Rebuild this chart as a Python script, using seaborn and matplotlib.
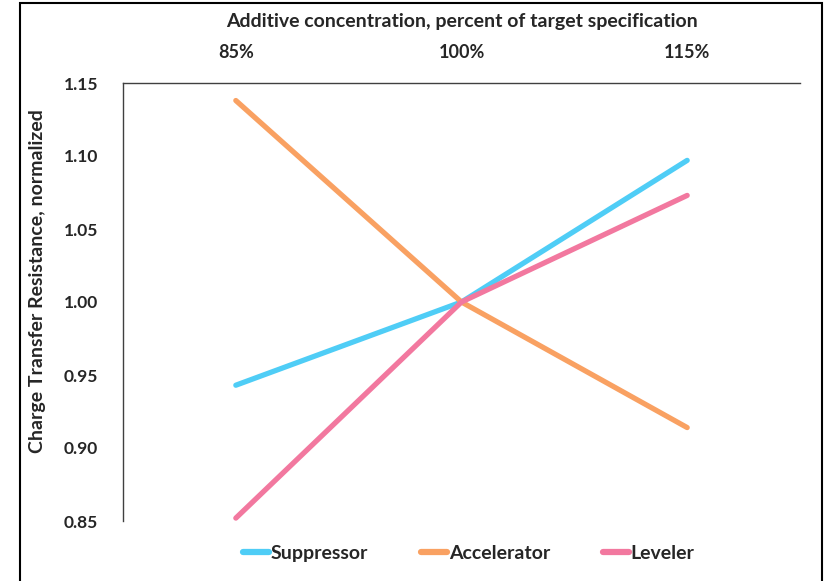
import matplotlib
matplotlib.use("Agg")
import matplotlib.pyplot as plt
from matplotlib.patches import Rectangle
import seaborn as sns
import pandas as pd

concentrations = ["85%", "100%", "115%"]
suppressor = [0.943, 1.000, 1.097]
accelerator = [1.138, 1.000, 0.914]
leveler = [0.852, 1.000, 1.073]
series_names = ["Suppressor", "Accelerator", "Leveler"]
y_ticks = [0.85, 0.90, 0.95, 1.00, 1.05, 1.10, 1.15]

colors = {"Suppressor": "#4FCDF6", "Accelerator": "#F9A162", "Leveler": "#F2789F"}

df = pd.DataFrame({
    "concentration": concentrations * 3,
    "resistance": suppressor + accelerator + leveler,
    "additive": [n for n in series_names for _ in concentrations],
})

sns.set_theme(style="white")
plt.rcParams["font.family"] = ["Lato", "DejaVu Sans"]
plt.rcParams["font.weight"] = "bold"

fig = plt.figure(figsize=(8.3, 5.81), dpi=100)
ax = fig.add_axes([123 / 830, 1 - 521 / 581, 677 / 830, 438 / 581])

sns.lineplot(data=df, x="concentration", y="resistance", hue="additive",
             hue_order=series_names, palette=colors, linewidth=3.8,
             sort=False, ax=ax, solid_capstyle="round")

ax.set_xlim(-0.5, 2.5)
ax.set_ylim(0.85, 1.15)
ax.set_yticks(y_ticks)
ax.set_yticklabels([f"{v:.2f}" for v in y_ticks], fontsize=12.5, fontweight="bold")
ax.xaxis.tick_top()
ax.xaxis.set_label_position("top")
ax.tick_params(axis="x", length=0, pad=16, labelsize=13)
ax.tick_params(axis="y", length=0, pad=18)
for lbl in ax.get_xticklabels():
    lbl.set_fontweight("bold")

ax.set_xlabel("Additive concentration, percent of target specification",
              fontsize=14, fontweight="bold", labelpad=12)
ax.set_ylabel("Charge Transfer Resistance, normalized",
              fontsize=14, fontweight="bold")
ax.yaxis.set_label_coords(-0.114, 0.548)

for side in ["bottom", "right"]:
    ax.spines[side].set_visible(False)
for side in ["top", "left"]:
    ax.spines[side].set_color("#404040")
    ax.spines[side].set_linewidth(1.0)

leg = ax.legend(loc="upper center", bbox_to_anchor=(0.511, -0.015), ncol=3,
                frameon=False, handlelength=1.3, handletextpad=0.1,
                columnspacing=2.75, prop={"weight": "bold", "size": 14})
for h in leg.get_lines():
    h.set_linewidth(4.5)

fig.patches.append(Rectangle((20 / 830, -0.05), 802 / 830, 1.05 - 3 / 581,
                             transform=fig.transFigure, fill=False,
                             edgecolor="black", linewidth=1.5))

fig.savefig("out.png", dpi=100)
